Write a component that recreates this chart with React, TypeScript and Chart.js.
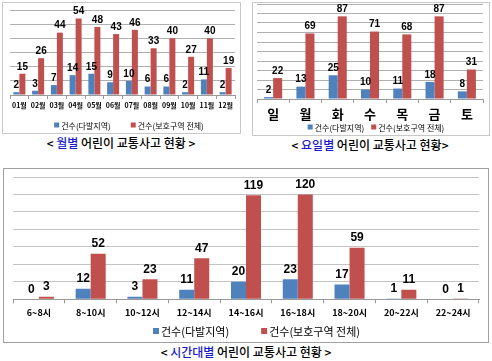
import React, { useEffect, useRef } from 'react';
import { Chart, registerables } from 'chart.js';

Chart.register(...registerables);

const BLUE = '#4f81bd';
const RED = '#c0504d';
const seriesNames = ['건수(다발지역)', '건수(보호구역 전체)'];

const monthLabels = ['01월', '02월', '03월', '04월', '05월', '06월', '07월', '08월', '09월', '10월', '11월', '12월'];
const monthHot = [2, 3, 7, 14, 15, 9, 10, 6, 6, 2, 11, 2];
const monthAll = [15, 26, 44, 54, 48, 43, 46, 33, 40, 27, 40, 19];

const dayLabels = ['일', '월', '화', '수', '목', '금', '토'];
const dayHot = [2, 13, 25, 10, 11, 18, 8];
const dayAll = [22, 69, 87, 71, 68, 87, 31];

const hourLabels = ['6~8시', '8~10시', '10~12시', '12~14시', '14~16시', '16~18시', '18~20시', '20~22시', '22~24시'];
const hourHot = [0, 12, 3, 11, 20, 23, 17, 1, 0];
const hourAll = [3, 52, 23, 47, 119, 120, 59, 11, 1];

const KR = '"Noto Sans CJK KR", "Liberation Sans", sans-serif';
const NUM = '"Liberation Sans", Arial, sans-serif';

const valueLabels = {
  id: 'valueLabels',
  afterDatasetsDraw(chart: any, _args: any, opts: any) {
    const ctx = chart.ctx;
    ctx.save();
    ctx.font = `bold ${opts.size}px ${NUM}`;
    ctx.fillStyle = '#000';
    ctx.textAlign = 'center';
    ctx.textBaseline = 'bottom';
    chart.data.datasets.forEach((ds: any, i: number) => {
      const meta = chart.getDatasetMeta(i);
      meta.data.forEach((el: any, j: number) => {
        ctx.fillText(String(ds.data[j]), el.x, el.y - opts.gap);
      });
    });
    ctx.restore();
  },
};

// Legend drawn at an exact spot, built from the datasets' labels and colours
const placedLegend = {
  id: 'placedLegend',
  afterDraw(chart: any, _args: any, opts: any) {
    const ctx = chart.ctx;
    ctx.save();
    ctx.font = `${opts.size}px ${KR}`;
    ctx.textBaseline = 'middle';
    ctx.textAlign = 'left';
    const items = chart.data.datasets.map((ds: any) => ({
      text: ds.label,
      color: ds.backgroundColor,
      w: ctx.measureText(ds.label).width,
    }));
    const itemW = (it: any) => opts.box + opts.space + it.w;
    const total = items.reduce((a: number, it: any) => a + itemW(it), 0) + opts.gap * (items.length - 1);
    let x = opts.cx - total / 2;
    items.forEach((it: any) => {
      ctx.fillStyle = it.color;
      ctx.fillRect(x, opts.cy - opts.box / 2 - 1, opts.box, opts.box);
      ctx.fillStyle = '#000';
      ctx.fillText(it.text, x + opts.box + opts.space, opts.cy);
      x += itemW(it) + opts.gap;
    });
    ctx.restore();
  },
};

type PanelProps = {
  labels: string[];
  hot: number[];
  all: number[];
  max: number;
  step: number;
  left: number;
  top: number;
  width: number;
  height: number;
  pad: { left: number; right: number; top: number; bottom: number };
  catPct: number;
  xFont: number;
  xPad: number;
  valSize: number;
  valGap: number;
  leg: { cx: number; cy: number; size: number; gap: number; box: number; space: number };
  gridColor: string;
};

function Panel(p: PanelProps) {
  const ref = useRef<HTMLCanvasElement>(null);
  useEffect(() => {
    const chart = new Chart(ref.current as HTMLCanvasElement, {
      type: 'bar',
      data: {
        labels: p.labels,
        datasets: [
          { label: seriesNames[0], data: p.hot, backgroundColor: BLUE, borderWidth: 0 },
          { label: seriesNames[1], data: p.all, backgroundColor: RED, borderWidth: 0 },
        ],
      },
      options: {
        animation: false,
        responsive: false,
        maintainAspectRatio: false,
        layout: { padding: p.pad },
        datasets: { bar: { categoryPercentage: p.catPct, barPercentage: 1 } },
        scales: {
          x: {
            grid: { display: true, drawOnChartArea: false, drawTicks: true, tickLength: 4, color: '#999', offset: true },
            border: { display: true, color: '#999' },
            ticks: {
              color: '#000',
              font: { size: p.xFont, weight: 'bold', family: KR },
              padding: p.xPad,
              maxRotation: 0,
              autoSkip: false,
            },
          },
          y: {
            min: 0,
            max: p.max,
            ticks: { stepSize: p.step, display: false },
            grid: { color: p.gridColor, drawTicks: false },
            border: { display: false },
            afterFit: (s: any) => {
              s.width = 0;
            },
          },
        },
        plugins: {
          legend: { display: false },
          tooltip: { enabled: false },
          valueLabels: { size: p.valSize, gap: p.valGap },
          placedLegend: p.leg,
        } as any,
      },
      plugins: [valueLabels, placedLegend],
    });
    return () => chart.destroy();
  }, []);
  return (
    <canvas
      ref={ref}
      width={p.width}
      height={p.height}
      style={{ position: 'absolute', left: p.left, top: p.top, width: p.width, height: p.height }}
    />
  );
}

function Box({ left, top, width, height, color }: { left: number; top: number; width: number; height: number; color: string }) {
  return (
    <div
      style={{
        position: 'absolute',
        left,
        top,
        width: width - 2,
        height: height - 2,
        border: `1px solid ${color}`,
      }}
    />
  );
}

function Caption({ cx, cy, pre, hi, post }: { cx: number; cy: number; pre: string; hi: string; post: string }) {
  return (
    <div
      style={{
        position: 'absolute',
        left: cx - 120,
        top: cy - 9,
        width: 240,
        height: 18,
        lineHeight: '18px',
        textAlign: 'center',
        fontFamily: KR,
        fontSize: 12,
        fontWeight: 500,
        color: '#000',
        whiteSpace: 'pre',
      }}
    >
      {pre}
      <span style={{ color: '#1a1acc' }}>{hi}</span>
      {post}
    </div>
  );
}

export default function App() {
  useEffect(() => {
    document.body.style.margin = '0';
  }, []);
  return (
    <div style={{ position: 'relative', width: 492, height: 361, background: '#fff', overflow: 'hidden' }}>
      <Box left={2} top={2} width={239} height={132} color="#c8c8c8" />
      <Box left={252} top={2} width={238} height={134} color="#c8c8c8" />
      <Box left={3} top={168} width={486} height={175} color="#a0a0a0" />
      <Panel
        labels={monthLabels}
        hot={monthHot}
        all={monthAll}
        max={60}
        step={10}
        left={3}
        top={3}
        width={236}
        height={129}
        pad={{ left: 7, right: 4, top: 7, bottom: 20.6 }}
        catPct={0.64}
        xFont={7}
        xPad={2}
        valSize={10}
        valGap={2}
        leg={{ cx: 126, cy: 123, size: 8, gap: 20, box: 5, space: 2 }}
        gridColor="#b0b0b0"
      />
      <Panel
        labels={dayLabels}
        hot={dayHot}
        all={dayAll}
        max={100}
        step={10}
        left={253}
        top={3}
        width={236}
        height={131}
        pad={{ left: 4, right: 6, top: 1, bottom: 9.4 }}
        catPct={0.56}
        xFont={13}
        xPad={3}
        valSize={10}
        valGap={2}
        leg={{ cx: 123, cy: 125, size: 8, gap: 7, box: 5, space: 2 }}
        gridColor="#b0b0b0"
      />
      <Panel
        labels={hourLabels}
        hot={hourHot}
        all={hourAll}
        max={140}
        step={20}
        left={4}
        top={169}
        width={483}
        height={172}
        pad={{ left: 9, right: 8, top: 8, bottom: 18.9 }}
        catPct={0.58}
        xFont={9}
        xPad={4}
        valSize={12}
        valGap={4}
        leg={{ cx: 252.5, cy: 163, size: 11, gap: 32, box: 6, space: 2 }}
        gridColor="#c4c4c4"
      />
      <Caption cx={121} cy={143} pre="< " hi="월별" post=" 어린이 교통사고 현황 >" />
      <Caption cx={370} cy={145} pre="< " hi="요일별" post=" 어린이 교통사고 현황>" />
      <Caption cx={246} cy={352} pre="< " hi="시간대별" post=" 어린이 교통사고 현황 >" />
    </div>
  );
}
